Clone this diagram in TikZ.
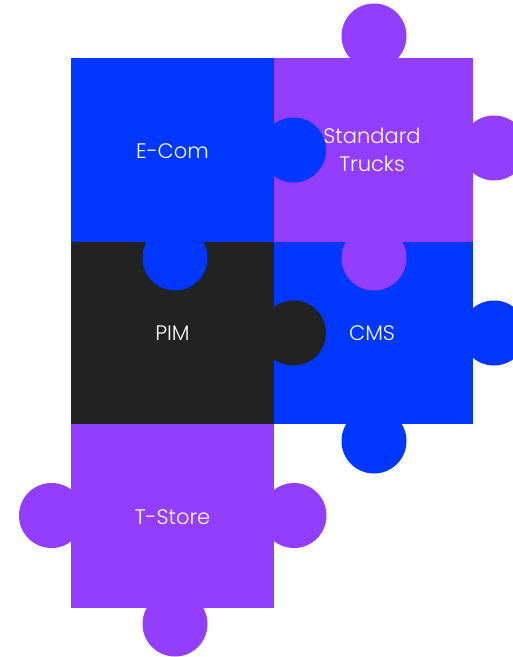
\documentclass[tikz,border=0pt]{standalone}
\usepackage{fontspec}
\setmainfont{Poppins Light}
\definecolor{pblue}{HTML}{0037FF}
\definecolor{ppurple}{HTML}{933DFF}
\definecolor{pdark}{HTML}{222222}
\begin{document}
\begin{tikzpicture}[x=1pt,y=-1pt,
  piece/.style={inner sep=0pt,outer sep=0pt,draw=none},
  knob/.style={circle,minimum size=65pt,inner sep=0pt,outer sep=0pt,draw=none},
  lbl/.style={text=white,font=\fontsize{21}{28}\selectfont,align=center}]
\useasboundingbox (0,0) rectangle (513,657);
% squares
\fill[pblue]   (71,58)   rectangle (274,242);
\fill[ppurple] (274,58)  rectangle (472.5,242);
\fill[pdark]   (71,242)  rectangle (274,424);
\fill[pblue]   (274,242) rectangle (472.5,424);
\fill[ppurple] (71,424)  rectangle (274,607.5);
% knobs
\node[knob,fill=ppurple] (stTop)   at (374,36) {};
\node[knob,fill=ppurple] (stRight) at (494,148) {};
\node[knob,fill=pblue]   (ecRight) at (293.5,150) {};
\node[knob,fill=ppurple] (stBot)   at (374,258) {};
\node[knob,fill=pblue]   (ecBot)   at (175,258) {};
\node[knob,fill=pdark]   (pimRight) at (293.5,333) {};
\node[knob,fill=pblue]   (cmsRight) at (494,333) {};
\node[knob,fill=pblue]   (cmsBot)  at (374,441) {};
\node[knob,fill=ppurple] (tsLeft)  at (51.5,515.5) {};
\node[knob,fill=ppurple] (tsRight) at (294,515.5) {};
\node[knob,fill=ppurple] (tsBot)   at (175,624) {};
% labels
\node[lbl] (ecom) at (172.5,151) {E-Com};
\node[lbl] (st) at (372,150) {Standard\\Trucks};
\node[lbl] (pim) at (172.5,333) {PIM};
\node[lbl] (cms) at (372,333) {CMS};
\node[lbl] (ts) at (172.5,517) {T-Store};
\end{tikzpicture}
\end{document}
